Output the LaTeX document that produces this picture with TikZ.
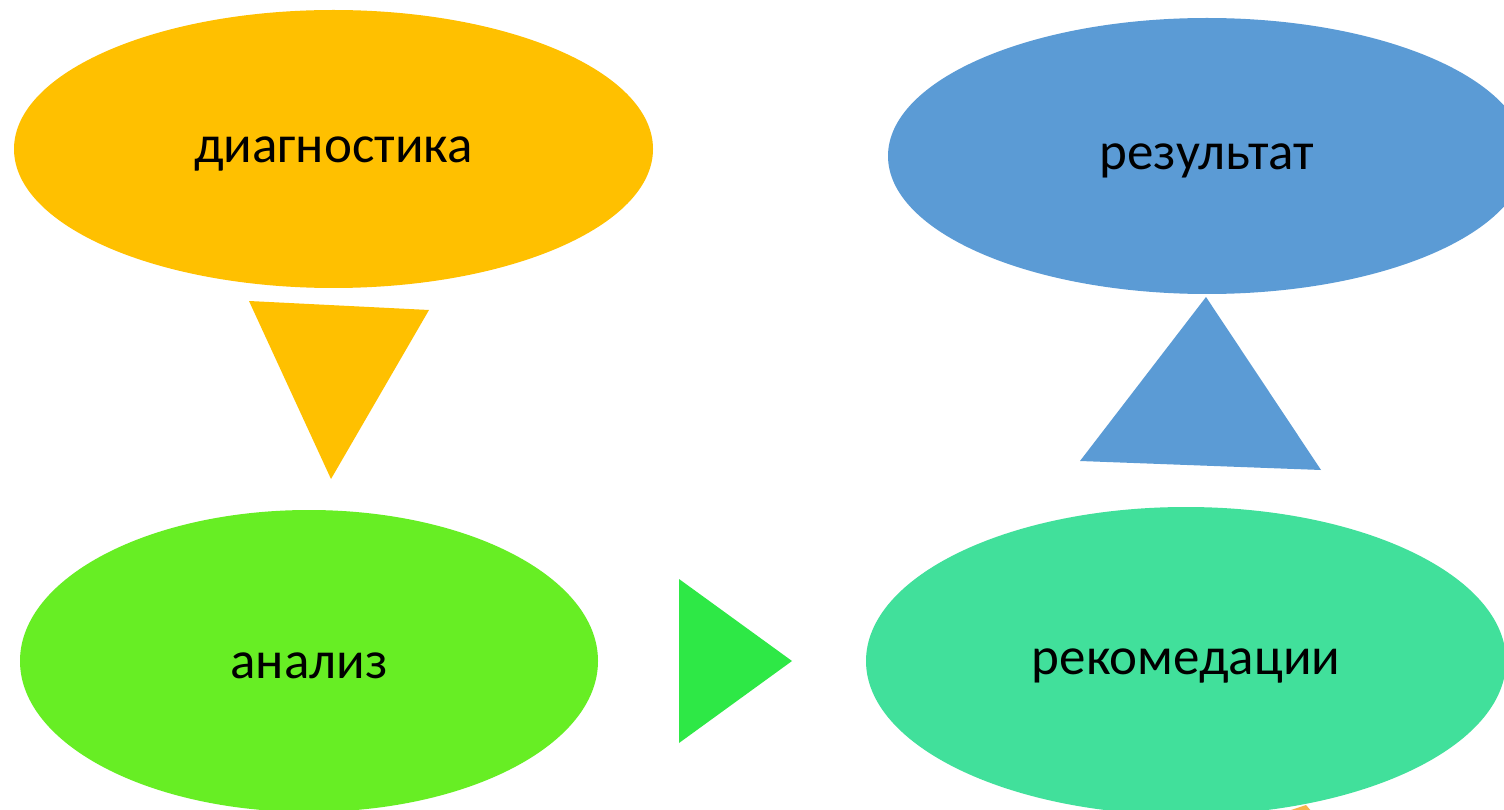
\documentclass[tikz,border=0pt]{standalone}
\usepackage{fontspec}
\setmainfont{Carlito}
\usetikzlibrary{shapes.geometric}
\definecolor{cyel}{HTML}{FFC000}
\definecolor{cblue}{HTML}{5B9BD5}
\definecolor{clime}{HTML}{67EE24}
\definecolor{cteal}{HTML}{41E09B}
\definecolor{cgreen}{HTML}{2EE846}
\definecolor{corange}{HTML}{F9B44A}
\tikzset{
  blob/.style={ellipse, inner sep=0pt, draw=none, text=black},
  lbl/.style={font=\fontsize{53}{60}\selectfont, text=black, inner sep=0pt, yshift=-5pt}
}
\begin{document}
\begin{tikzpicture}[x=1pt,y=-1pt]
\useasboundingbox (0,0) rectangle (1504,810);
\clip (0,0) rectangle (1504,810);
\fill[white] (0,0) rectangle (1504,810);
\node[blob, fill=cyel, minimum width=639pt, minimum height=278pt] (diag) at (333.5,149) {};
\node[lbl] (diagl) at (diag.center) {диагностика};
\node[blob, fill=cblue, minimum width=638pt, minimum height=276pt] (res) at (1207,156) {};
\node[lbl] (resl) at (res.center) {результат};
\node[blob, fill=clime, minimum width=578pt, minimum height=302pt] (anal) at (309,661) {};
\node[lbl] (anall) at (anal.center) {анализ};
\node[blob, fill=cteal, minimum width=640pt, minimum height=308pt] (rec) at (1186,661) {};
\node[lbl] (recl) at (rec.center) {рекомедации};
\coordinate (t1a) at (249,301);
\coordinate (t1b) at (429,310);
\coordinate (t1c) at (331,479);
\fill[cyel] (t1a) -- (t1b) -- (t1c) -- cycle;
\coordinate (t2a) at (1206,297);
\coordinate (t2b) at (1321,470);
\coordinate (t2c) at (1080,461);
\fill[cblue] (t2a) -- (t2b) -- (t2c) -- cycle;
\coordinate (t3a) at (679,579);
\coordinate (t3b) at (792,661);
\coordinate (t3c) at (679,743);
\fill[cgreen] (t3a) -- (t3b) -- (t3c) -- cycle;
\coordinate (t4a) at (1285,812);
\coordinate (t4b) at (1306,805);
\coordinate (t4c) at (1312,812);
\fill[corange] (t4a) -- (t4b) -- (t4c) -- cycle;
\end{tikzpicture}
\end{document}
